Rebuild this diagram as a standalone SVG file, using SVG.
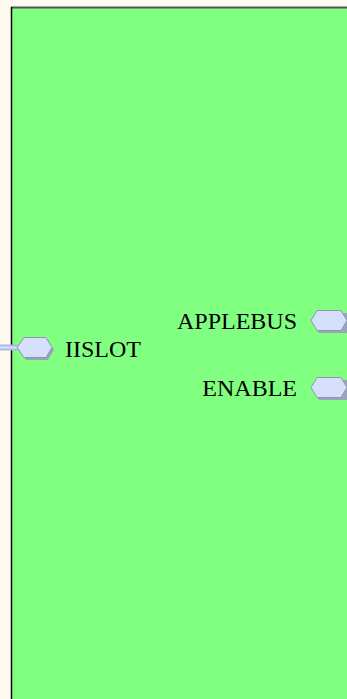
<svg xmlns="http://www.w3.org/2000/svg" width="347" height="699" viewBox="0 0 347 699">
<style>
.port{fill:#d6e0fc;stroke:#8c94b4;stroke-width:1}
.sh{fill:#9ca4bc}
.lbl{font-family:"Liberation Serif",serif;font-size:24px;fill:#000}
</style>
<rect width="347" height="699" fill="#fffaf0"/>
<g id="block">
<rect x="11" y="7" width="340" height="700" fill="#80ff80"/>
<line x1="11" y1="7.5" x2="347" y2="7.5" stroke="#555" stroke-width="2"/>
<line x1="11.5" y1="7" x2="11.5" y2="699" stroke="#000" stroke-width="1.5"/>
</g>
<g id="connectors">
<line x1="0" y1="347.5" x2="18" y2="347.5" stroke="#a8b8e8" stroke-width="6"/>
<line x1="0" y1="347.5" x2="18" y2="347.5" stroke="#d8e2ff" stroke-width="2"/>
</g>
<g id="IISLOT">
<polygon class="sh" points="19,350 26,340 48,340 54,350 48,360 26,360"/>
<polygon class="port" points="17,347.5 24,337.5 46,337.5 52,347.5 46,357.5 24,357.5"/>
<text class="lbl" x="65" y="357">IISLOT</text>
</g>
<g id="APPLEBUS">
<polygon class="sh" points="313,323 319,313 347,313 347,333 319,333"/>
<polygon class="port" points="311,320.5 317,310.5 341,310.5 347,320.5 341,330.5 317,330.5"/>
<text class="lbl" x="297" y="329" text-anchor="end">APPLEBUS</text>
</g>
<g id="ENABLE">
<polygon class="sh" points="313,390 319,380 347,380 347,400 319,400"/>
<polygon class="port" points="311,387.5 317,377.5 341,377.5 347,387.5 341,397.5 317,397.5"/>
<text class="lbl" x="297" y="396" text-anchor="end">ENABLE</text>
</g>
</svg>
